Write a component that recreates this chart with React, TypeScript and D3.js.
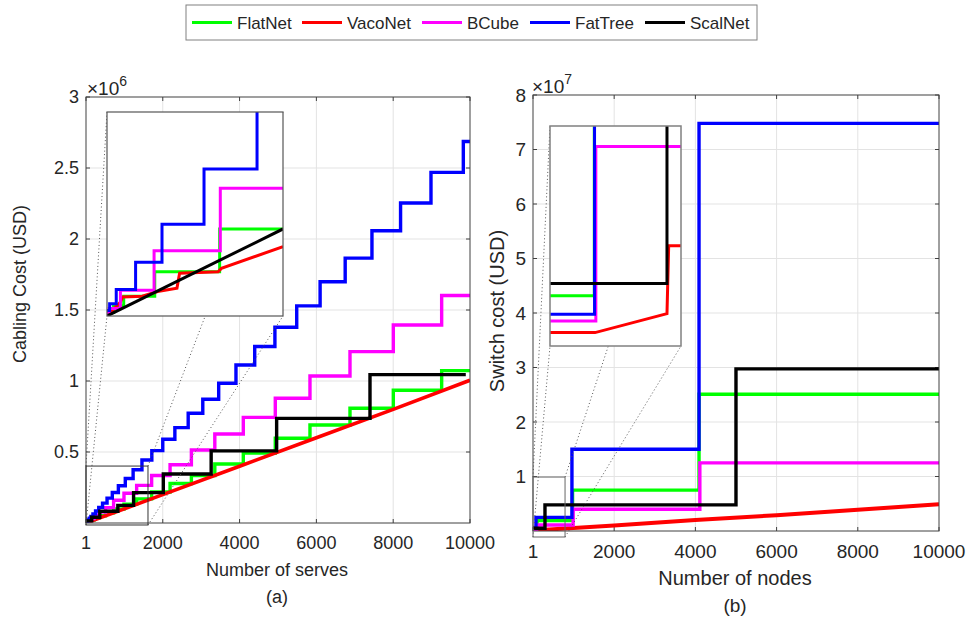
import React from "react";
import * as d3 from "d3";

// ---- data, panel (a): cabling cost, values in 10^6 USD
const flatA_n = [1, 60, 120, 210, 340, 510, 720, 990, 1320, 1710, 2190, 2745, 3355, 4097, 4930, 5833, 6875, 8003, 9262];
const flatA_v = [0.006, 0.012, 0.021, 0.034, 0.051, 0.072, 0.099, 0.133, 0.17, 0.218, 0.278, 0.334, 0.416, 0.492, 0.597, 0.69, 0.808, 0.935, 1.073];
const bcubeA_v = [0.009, 0.018, 0.032, 0.051, 0.077, 0.108, 0.16, 0.209, 0.265, 0.335, 0.41, 0.514, 0.627, 0.744, 0.878, 1.035, 1.207, 1.394, 1.602];
const vacoA_n = [1, 2000, 4000, 6000, 8000, 10000];
const vacoA_v = [0.0, 0.2, 0.4, 0.6, 0.8, 1.005];
const fatA_n = [1, 7, 16, 31, 54, 86, 128, 182, 250, 333, 432, 549, 686, 844, 1024, 1228, 1458, 1715, 2000, 2315, 2662, 3042, 3456, 3906, 4394, 4920, 5488, 6097, 6750, 7447, 8192, 8984, 9826];
const fatA_v = [0.002, 0.004, 0.008, 0.014, 0.022, 0.033, 0.046, 0.064, 0.085, 0.11, 0.14, 0.175, 0.215, 0.262, 0.313, 0.375, 0.444, 0.51, 0.59, 0.672, 0.773, 0.872, 0.984, 1.113, 1.243, 1.379, 1.529, 1.699, 1.865, 2.058, 2.253, 2.469, 2.687];
const scalA_n = [1, 150, 360, 830, 1240, 2014, 3260, 4965, 7396];
const scalA_v = [0.015, 0.04, 0.083, 0.124, 0.214, 0.345, 0.508, 0.737, 1.045];
const scalA_end = 9890;

// inset of (a)
const fatAi_n = [0, 12, 42, 130, 250, 441, 682];
const fatAi_v = [0.008, 0.018, 0.039, 0.079, 0.135, 0.216, 0.34];
const bcubeAi_n = [0, 10, 61, 214, 515];
const bcubeAi_v = [0.004, 0.011, 0.038, 0.096, 0.188];
const flatAi_n = [0, 30, 76, 217, 512];
const flatAi_v = [0.005, 0.015, 0.029, 0.065, 0.128];
const vacoAi_n = [0, 60, 72, 160, 230, 318, 330, 505, 520, 800];
const vacoAi_v = [0, 0.02, 0.028, 0.029, 0.036, 0.041, 0.063, 0.065, 0.07, 0.102];
const scalAi_n = [0, 800];
const scalAi_v = [0, 0.128];

// ---- data, panel (b): switch cost, values in 10^7 USD
const fatB_n = [1, 74, 960, 4090];
const fatB_v = [0.06, 0.25, 1.5, 7.48];
const flatB_n = [1, 100, 975, 4090];
const flatB_v = [0.05, 0.19, 0.75, 2.51];
const bcubeB_n = [1, 90, 990, 4110];
const bcubeB_v = [0.03, 0.11, 0.4, 1.25];
const scalB_n = [1, 296, 5000];
const scalB_v = [0.05, 0.48, 2.975];
const vacoB_n = [1, 2000, 4000, 6000, 8000, 10000];
const vacoB_v = [0.01, 0.1, 0.2, 0.29, 0.39, 0.49];

// inset of (b)
const vacoBi_n = [0, 344, 893, 906, 1000];
const vacoBi_v = [0.061, 0.061, 0.147, 0.456, 0.456];
const bcubeBi_n = [0, 350];
const bcubeBi_v = [0.114, 0.907];
const fatBi_n = [0, 340];
const fatBi_v = [0.144, 1.3];
const flatBi_n = [0, 338];
const flatBi_v = [0.228, 1.3];
const scalBi_n = [0, 893];
const scalBi_v = [0.284, 1.3];

const xTicks = [1, 2000, 4000, 6000, 8000, 10000];
const yTicksA = [0.5, 1, 1.5, 2, 2.5, 3];
const yTicksB = [1, 2, 3, 4, 5, 6, 7, 8];
const legendNames = ["FlatNet", "VacoNet", "BCube", "FatTree", "ScalNet"];
const colors = ["#00ff00", "#ff0000", "#ff00ff", "#0000ff", "#000000"];

// zoom rectangles (data units of the main axes)
const rectA = { n0: 1, n1: 1615, v0: -0.014, v1: 0.401 };
const rectB = { n0: 1, n1: 790, v0: -0.11, v1: 0.99 };

const FONT = "'Liberation Sans', Arial, sans-serif";

type Pt = [number, number];
const zip = (n: number[], v: number[]): Pt[] => n.map((d, i) => [d, v[i]]);
const stepPts = (n: number[], v: number[], end: number): Pt[] => [...zip(n, v), [end, v[v.length - 1]]];

function Lines({ series, x, y, clip, width = 3 }: any) {
  return (
    <g clipPath={clip ? `url(#${clip})` : undefined}>
      {series.map((s: any, i: number) => {
        const line = d3
          .line<Pt>()
          .x((d) => x(d[0]))
          .y((d) => y(d[1]))
          .curve(s.step ? d3.curveStepAfter : d3.curveLinear);
        return (
          <path
            key={i}
            d={line(s.pts) || ""}
            fill="none"
            stroke={s.color}
            strokeWidth={s.w || width}
            strokeLinejoin="miter"
          />
        );
      })}
    </g>
  );
}

function Axes({ x, y, yTicks, fontSize, labelDy }: any) {
  const [x0, x1] = x.range();
  const [y0, y1] = y.range();
  const tl = 4;
  return (
    <g>
      <rect x={x0} y={y1} width={x1 - x0} height={y0 - y1} fill="#fff" />
      {xTicks.slice(1, -1).map((t: number) => (
        <line key={"gx" + t} x1={x(t)} x2={x(t)} y1={y0} y2={y1} stroke="#e3e3e3" strokeWidth={1} />
      ))}
      {yTicks.slice(0, -1).map((t: number) => (
        <line key={"gy" + t} x1={x0} x2={x1} y1={y(t)} y2={y(t)} stroke="#e3e3e3" strokeWidth={1} />
      ))}
      {xTicks.map((t: number) => (
        <g key={"tx" + t}>
          <line x1={x(t)} x2={x(t)} y1={y0} y2={y0 - tl} stroke="#404040" />
          <line x1={x(t)} x2={x(t)} y1={y1} y2={y1 + tl} stroke="#404040" />
          <text x={x(t)} y={y0 + labelDy} textAnchor="middle" fontSize={fontSize} fill="#262626" fontFamily={FONT}>
            {t}
          </text>
        </g>
      ))}
      {yTicks.map((t: number) => (
        <g key={"ty" + t}>
          <line x1={x0} x2={x0 + tl} y1={y(t)} y2={y(t)} stroke="#404040" />
          <line x1={x1} x2={x1 - tl} y1={y(t)} y2={y(t)} stroke="#404040" />
          <text x={x0 - 7} y={y(t)} dy="0.36em" textAnchor="end" fontSize={fontSize} fill="#262626" fontFamily={FONT}>
            {t}
          </text>
        </g>
      ))}
    </g>
  );
}

function Zoom({ x, y, r, box, stroke }: any) {
  const rx0 = x(r.n0), rx1 = x(r.n1), ry0 = y(r.v0), ry1 = y(r.v1);
  const dot = { stroke: "#555", strokeWidth: 1, strokeDasharray: "1 2.5", fill: "none" };
  return (
    <g>
      <line x1={rx0} y1={ry1} x2={box.x0} y2={box.y0} {...dot} />
      <line x1={rx0} y1={ry0} x2={box.x0} y2={box.y1} {...dot} />
      <line x1={rx1} y1={ry1} x2={box.x1} y2={box.y0} {...dot} />
      <line x1={rx1} y1={ry0} x2={box.x1} y2={box.y1} {...dot} />
      <rect x={rx0} y={ry1} width={rx1 - rx0} height={ry0 - ry1} fill="none" stroke={stroke} strokeWidth={1} />
    </g>
  );
}

export default function App() {
  // panel (a)
  const xA = d3.scaleLinear().domain([1, 10000]).range([86, 470]);
  const yA = d3.scaleLinear().domain([0, 3]).range([523, 97]);
  const boxA = { x0: 107, x1: 283, y0: 112, y1: 316 };
  const xAi = d3.scaleLinear().domain([0, 800]).range([boxA.x0, boxA.x1]);
  const yAi = d3.scaleLinear().domain([0, 0.3]).range([boxA.y1, boxA.y0]);

  // panel (b)
  const xB = d3.scaleLinear().domain([1, 10000]).range([533, 939]);
  const yB = d3.scaleLinear().domain([0, 8]).range([531, 95]);
  const boxB = { x0: 550, x1: 681, y0: 126, y1: 346 };
  const xBi = d3.scaleLinear().domain([0, 1000]).range([boxB.x0, boxB.x1]);
  const yBi = d3.scaleLinear().domain([0, 1]).range([boxB.y1, boxB.y0]);

  const seriesA = [
    { pts: stepPts(flatA_n, flatA_v, 10000), color: colors[0], step: true },
    { pts: zip(vacoA_n, vacoA_v), color: colors[1], w: 3.6 },
    { pts: stepPts(flatA_n, bcubeA_v, 10000), color: colors[2], step: true },
    { pts: stepPts(fatA_n, fatA_v, 10000), color: colors[3], step: true },
    { pts: stepPts(scalA_n, scalA_v, scalA_end), color: colors[4], step: true },
  ];
  const seriesAi = [
    { pts: stepPts(flatAi_n, flatAi_v, 800), color: colors[0], step: true },
    { pts: zip(vacoAi_n, vacoAi_v), color: colors[1] },
    { pts: stepPts(bcubeAi_n, bcubeAi_v, 800), color: colors[2], step: true },
    { pts: stepPts(fatAi_n, fatAi_v, 800), color: colors[3], step: true },
    { pts: zip(scalAi_n, scalAi_v), color: colors[4] },
  ];
  const seriesB = [
    { pts: stepPts(flatB_n, flatB_v, 10000), color: colors[0], step: true },
    { pts: zip(vacoB_n, vacoB_v), color: colors[1], w: 4 },
    { pts: stepPts(bcubeB_n, bcubeB_v, 10000), color: colors[2], step: true },
    { pts: stepPts(fatB_n, fatB_v, 10000), color: colors[3], step: true },
    { pts: stepPts(scalB_n, scalB_v, 10000), color: colors[4], step: true },
  ];
  const seriesBi = [
    { pts: stepPts(flatBi_n, flatBi_v, 1000), color: colors[0], step: true },
    { pts: zip(vacoBi_n, vacoBi_v), color: colors[1] },
    { pts: stepPts(bcubeBi_n, bcubeBi_v, 1000), color: colors[2], step: true },
    { pts: stepPts(fatBi_n, fatBi_v, 1000), color: colors[3], step: true },
    { pts: stepPts(scalBi_n, scalBi_v, 1000), color: colors[4], step: true },
  ];

  const legendX = [192, 302, 422, 530, 645];

  return (
    <svg width={967} height={620} style={{ position: "absolute", left: 0, top: 0, background: "#fff" }}>
      <defs>
        <clipPath id="clipA"><rect x={86} y={97} width={384} height={426} /></clipPath>
        <clipPath id="clipAi"><rect x={boxA.x0} y={boxA.y0} width={boxA.x1 - boxA.x0} height={boxA.y1 - boxA.y0} /></clipPath>
        <clipPath id="clipB"><rect x={533} y={95} width={406} height={436} /></clipPath>
        <clipPath id="clipBi"><rect x={boxB.x0} y={boxB.y0} width={boxB.x1 - boxB.x0} height={boxB.y1 - boxB.y0} /></clipPath>
      </defs>
      <rect width={967} height={620} fill="#fff" />

      {/* panel (a) */}
      <Axes x={xA} y={yA} yTicks={yTicksA} fontSize={18} labelDy={26} />
      <Lines series={seriesA} x={xA} y={yA} clip="clipA" width={3.4} />
      <rect x={86} y={97} width={384} height={426} fill="none" stroke="#404040" strokeWidth={1} />
      <Zoom x={xA} y={yA} r={rectA} box={boxA} stroke="#333" />
      <rect x={boxA.x0} y={boxA.y0} width={boxA.x1 - boxA.x0} height={boxA.y1 - boxA.y0} fill="#fff" />
      <Lines series={seriesAi} x={xAi} y={yAi} clip="clipAi" />
      <rect x={boxA.x0} y={boxA.y0} width={boxA.x1 - boxA.x0} height={boxA.y1 - boxA.y0} fill="none" stroke="#555" strokeWidth={1.2} />
      <text x={87} y={95} fontSize={19} fill="#262626" fontFamily={FONT}>
        ×10<tspan dy={-9} fontSize={14}>6</tspan>
      </text>
      <text x={277} y={576} textAnchor="middle" fontSize={18} fill="#262626" fontFamily={FONT}>Number of serves</text>
      <text x={277} y={603} textAnchor="middle" fontSize={18} fill="#262626" fontFamily={FONT}>(a)</text>
      <text transform="translate(26,284) rotate(-90)" textAnchor="middle" fontSize={18} fill="#262626" fontFamily={FONT}>
        Cabling Cost (USD)
      </text>

      {/* panel (b) */}
      <Axes x={xB} y={yB} yTicks={yTicksB} fontSize={19} labelDy={27} />
      <Lines series={seriesB} x={xB} y={yB} clip="clipB" width={3.4} />
      <rect x={533} y={95} width={406} height={436} fill="none" stroke="#404040" strokeWidth={1} />
      <Zoom x={xB} y={yB} r={rectB} box={boxB} stroke="#666" />
      <rect x={boxB.x0} y={boxB.y0} width={boxB.x1 - boxB.x0} height={boxB.y1 - boxB.y0} fill="#fff" />
      <Lines series={seriesBi} x={xBi} y={yBi} clip="clipBi" />
      <rect x={boxB.x0} y={boxB.y0} width={boxB.x1 - boxB.x0} height={boxB.y1 - boxB.y0} fill="none" stroke="#808080" strokeWidth={1.5} />
      <text x={532} y={93} fontSize={19} fill="#262626" fontFamily={FONT}>
        ×10<tspan dy={-9} fontSize={14}>7</tspan>
      </text>
      <text x={735} y={585} textAnchor="middle" fontSize={20} fill="#262626" fontFamily={FONT}>Number of nodes</text>
      <text x={735} y={612} textAnchor="middle" fontSize={19} fill="#262626" fontFamily={FONT}>(b)</text>
      <text transform="translate(504,311) rotate(-90)" textAnchor="middle" fontSize={20} fill="#262626" fontFamily={FONT}>
        Switch cost (USD)
      </text>

      {/* legend */}
      <rect x={186} y={5} width={571} height={35} fill="#fff" stroke="#808080" strokeWidth={1} />
      {legendNames.map((name, i) => (
        <g key={name}>
          <line x1={legendX[i]} x2={legendX[i] + 40} y1={22.5} y2={22.5} stroke={colors[i]} strokeWidth={3} />
          <text x={legendX[i] + 45} y={22.5} dy="0.36em" fontSize={17} fill="#262626" fontFamily={FONT}>
            {name}
          </text>
        </g>
      ))}
    </svg>
  );
}
